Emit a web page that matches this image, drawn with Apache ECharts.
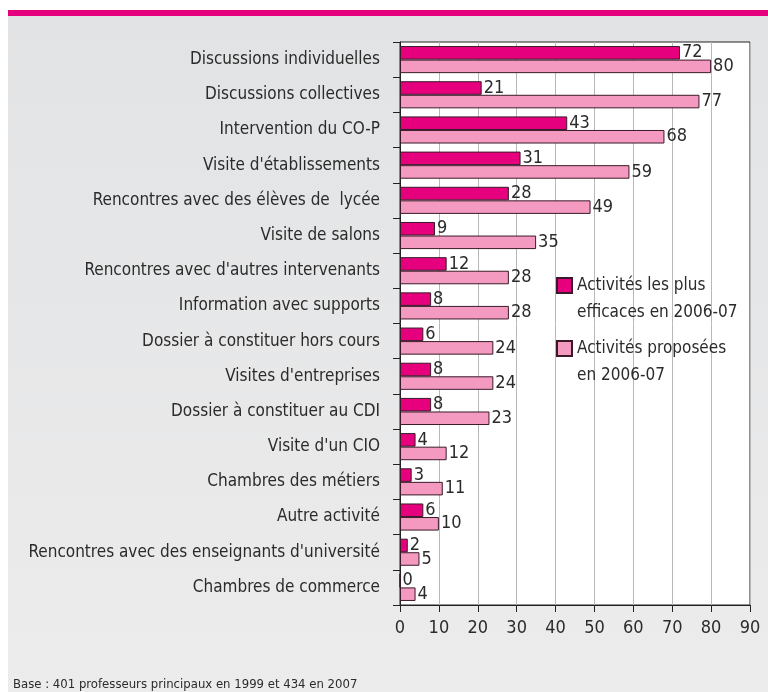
<!DOCTYPE html>
<html>
<head>
<meta charset="utf-8">
<script src="https://cdn.jsdelivr.net/npm/echarts@6/dist/echarts.min.js"></script>
<style>
  html, body { margin: 0; padding: 0; background: #fff; }
  #chart { width: 768px; height: 692px; }
</style>
</head>
<body>
<div id="chart"></div>
<script>
var categories = [
    "Discussions individuelles",
    "Discussions collectives",
    "Intervention du CO-P",
    "Visite d'établissements",
    "Rencontres avec des élèves de  lycée",
    "Visite de salons",
    "Rencontres avec d'autres intervenants",
    "Information avec supports",
    "Dossier à constituer hors cours",
    "Visites d'entreprises",
    "Dossier à constituer au CDI",
    "Visite d'un CIO",
    "Chambres des métiers",
    "Autre activité",
    "Rencontres avec des enseignants d'université",
    "Chambres de commerce"
];
var efficaces = [72, 21, 43, 31, 28, 9, 12, 8, 6, 8, 8, 4, 3, 6, 2, 0];
var proposees = [80, 77, 68, 59, 49, 35, 28, 28, 24, 24, 23, 12, 11, 10, 5, 4];
var xTicks = [0, 10, 20, 30, 40, 50, 60, 70, 80, 90];
var seriesNames = ['Activités les plus\nefficaces en 2006-07', 'Activités proposées\nen 2006-07'];

var FONT = '"DejaVu Sans Condensed", "DejaVu Sans", sans-serif';
var TXT = '#2b2b2b';

var myChart = echarts.init(document.getElementById('chart'));

var option = {
    animation: false,
    textStyle: { fontFamily: FONT },
    graphic: [
        {
            type: 'rect', z: -10, silent: true,
            shape: { x: 8, y: 16, width: 760, height: 676 },
            style: {
                fill: new echarts.graphic.LinearGradient(0, 0, 0, 1, [
                    { offset: 0, color: '#e2e3e4' },
                    { offset: 1, color: '#ececed' }
                ])
            }
        },
        {
            type: 'rect', z: -10, silent: true,
            shape: { x: 8, y: 10, width: 760, height: 6 },
            style: { fill: '#e5007d' }
        },
        {
            type: 'text', left: 13, top: 678, silent: true,
            style: {
                text: 'Base : 401 professeurs principaux en 1999 et 434 en 2007',
                fill: TXT, font: '13px ' + FONT
            }
        }
    ],
    legend: {
        orient: 'vertical',
        left: 556,
        top: 245,
        padding: 0,
        icon: 'rect',
        itemWidth: 15,
        itemHeight: 15,
        itemGap: -18,
        data: seriesNames,
        // blank first line so the icon sits beside the first text line
        formatter: function (name) { return '\n' + name; },
        textStyle: {
            fontFamily: FONT, fontSize: 17, color: TXT, lineHeight: 27
        }
    },
    grid: {
        left: 400, right: 18, top: 42, bottom: 87,
        show: true, backgroundColor: '#fff',
        borderColor: '#222', borderWidth: 1,
        containLabel: false,
        outerBoundsMode: 'none'
    },
    xAxis: {
        type: 'value', min: 0, max: 90, interval: 10,
        axisLine: { show: true, lineStyle: { color: '#222' } },
        axisTick: { show: true, length: 7, lineStyle: { color: '#222' } },
        axisLabel: {
            fontSize: 18, color: TXT, margin: 14, fontFamily: FONT,
            formatter: function (v) { return xTicks.indexOf(v) >= 0 ? String(v) : ''; }
        },
        splitLine: { show: true, lineStyle: { color: '#b8b8b8', width: 1 } }
    },
    yAxis: {
        type: 'category', data: categories, inverse: true,
        axisLine: { show: true, lineStyle: { color: '#222' } },
        axisTick: { show: true, length: 7, alignWithLabel: false, lineStyle: { color: '#222' } },
        axisLabel: { fontSize: 17, color: TXT, margin: 20, fontFamily: FONT },
        splitLine: { show: false }
    },
    series: [
        {
            name: seriesNames[0], type: 'bar', data: efficaces,
            barGap: '0%', barCategoryGap: '23%',
            itemStyle: { color: '#e6007e', borderColor: '#3a1a28', borderWidth: 1 },
            label: { show: true, position: 'right', distance: 2, fontSize: 18, color: TXT, fontFamily: FONT }
        },
        {
            name: seriesNames[1], type: 'bar', data: proposees,
            barGap: '0%', barCategoryGap: '23%',
            itemStyle: { color: '#f49ac1', borderColor: '#3a1a28', borderWidth: 1 },
            label: { show: true, position: 'right', distance: 2, fontSize: 18, color: TXT, fontFamily: FONT }
        }
    ]
};
myChart.setOption(option);
</script>
</body>
</html>
